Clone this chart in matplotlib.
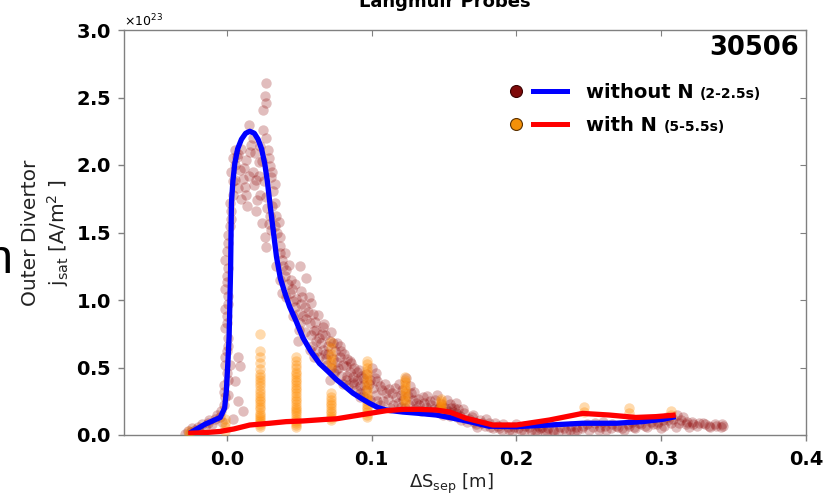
import matplotlib
matplotlib.use("Agg")
import matplotlib.pyplot as plt
import numpy as np
from matplotlib.lines import Line2D
from matplotlib.legend_handler import HandlerTuple
from matplotlib.ticker import ScalarFormatter

# Langmuir probe j_sat profiles along the outer divertor, shot 30506
SCALE = 1e23

# measured points, without nitrogen seeding (2-2.5 s), units of 1e23 A/m^2
woN_x = [-0.029, -0.027, -0.025, -0.024, -0.022, -0.020, -0.019, -0.017, -0.015, -0.013,
         -0.012, -0.010, -0.008, -0.007, -0.005, -0.004, -0.003, -0.002,
         -0.001, -0.002, 0.000, -0.001, 0.001, -0.001, 0.000, 0.001, -0.001, 0.000,
         -0.001, 0.001, 0.002, 0.003, 0.004, 0.001, 0.002, 0.0078, 0.009, 0.006, 0.008, 0.011, 0.004,
         -0.002, 0.001, -0.001, 0.000, 0.001, 0.000, -0.001, 0.001, 0.000, 0.001, 0.000, 0.001,
         0.003, 0.002, 0.004,
         0.0055, 0.0067, 0.009, 0.0055, 0.0078, 0.0101, 0.0124, 0.0136, 0.0152, 0.017,
         0.0193, 0.0205, 0.0228, 0.024, 0.025, 0.0269, 0.0262, 0.0274, 0.025, 0.0274,
         0.0285, 0.0297, 0.0308, 0.032, 0.0331, 0.0343, 0.0262, 0.0274, 0.0308, 0.0366,
         0.0389, 0.0366, 0.0412, 0.012, 0.018, 0.022, 0.003, 0.004, 0.014, 0.020,
         0.006, 0.008, 0.010, 0.011, 0.013, 0.015, 0.016, 0.018, 0.019, 0.021,
         0.022, 0.023, 0.024, 0.026, 0.027, 0.028, 0.029, 0.030, 0.031, 0.033,
         0.035, 0.029, 0.031, 0.033, 0.036, 0.037, 0.038, 0.040, 0.040, 0.042, 0.043,
         0.0343, 0.0366, 0.038, 0.0503, 0.055, 0.0434, 0.048, 0.0515, 0.0538, 0.0457,
         0.0503, 0.0572, 0.0595, 0.0492, 0.0618, 0.0572, 0.0664, 0.0687, 0.0779, 0.0757,
         0.0826, 0.0871, 0.071, 0.0802, 0.0917, 0.0986, 0.1032, 0.1055, 0.110, 0.117,
         0.0618, 0.0733, 0.0664, 0.0526, 0.058, 0.044, 0.064, 0.070, 0.079, 0.085,
         0.090, 0.094, 0.072, 0.083, 0.060, 0.047, 0.041, 0.068, 0.076, 0.088,
         0.096, 0.100, 0.104,
         0.045, 0.046, 0.047, 0.049, 0.051, 0.052, 0.050, 0.054, 0.055, 0.056,
         0.057, 0.058, 0.059, 0.060, 0.061, 0.062, 0.063, 0.064, 0.065, 0.066,
         0.067, 0.068, 0.069, 0.070, 0.071, 0.072, 0.073, 0.074, 0.075, 0.076,
         0.077, 0.078, 0.079, 0.080, 0.081, 0.082, 0.083, 0.084, 0.085, 0.086,
         0.087, 0.088, 0.089, 0.090, 0.091, 0.092, 0.093, 0.094, 0.095, 0.096,
         0.097, 0.098, 0.099, 0.101, 0.102, 0.103, 0.104, 0.106, 0.107, 0.109,
         0.111, 0.113, 0.114, 0.116, 0.118, 0.120,
         0.1262, 0.1285, 0.1354, 0.1377, 0.1469, 0.1538, 0.1584, 0.0917, 0.108, 0.112,
         0.115, 0.120, 0.123, 0.127, 0.131, 0.134, 0.140, 0.143, 0.150, 0.152,
         0.157, 0.119, 0.124, 0.145,
         0.121, 0.122, 0.125, 0.126, 0.129, 0.130, 0.132, 0.133, 0.136, 0.138,
         0.139, 0.141, 0.144, 0.146, 0.148, 0.149, 0.151, 0.153, 0.154, 0.156,
         0.159, 0.160,
         0.161, 0.163, 0.166, 0.169, 0.172, 0.175, 0.178, 0.181, 0.184, 0.187,
         0.190, 0.194, 0.197, 0.201, 0.205, 0.209, 0.213, 0.216, 0.221, 0.225,
         0.229, 0.233, 0.237, 0.241, 0.245, 0.249, 0.253, 0.257, 0.261, 0.265,
         0.269, 0.273, 0.277, 0.281, 0.285, 0.289, 0.293, 0.297, 0.301, 0.304,
         0.307, 0.311, 0.314, 0.317, 0.321, 0.325, 0.329, 0.333, 0.337, 0.341,
         0.343, 0.310, 0.200, 0.155, 0.158, 0.215, 0.260, 0.300, 0.280,
         0.162, 0.164, 0.167, 0.170, 0.171, 0.173, 0.176, 0.179, 0.182, 0.185,
         0.188, 0.191, 0.195, 0.198, 0.203, 0.206, 0.210, 0.214, 0.218, 0.222,
         0.226, 0.230, 0.234, 0.238, 0.242, 0.246, 0.250, 0.254, 0.258, 0.262,
         0.266, 0.270, 0.274, 0.278, 0.282, 0.286, 0.290, 0.294, 0.298, 0.302,
         0.305, 0.308, 0.312, 0.315, 0.318, 0.322, 0.326, 0.330, 0.334, 0.338,
         0.342, 0.319, 0.240, 0.220]
woN_y = [0.01, 0.03, 0.02, 0.05, 0.04, 0.06, 0.03, 0.08, 0.06, 0.09,
         0.11, 0.08, 0.12, 0.15, 0.13, 0.18, 0.10, 0.22,
         0.28, 0.37, 0.46, 0.58, 0.66, 0.79, 0.88, 0.97, 1.08, 1.18,
         1.30, 1.42, 1.55, 1.66, 1.78, 0.30, 0.52, 0.58, 0.51, 0.40, 0.25, 0.18, 0.12,
         0.32, 0.41, 0.52, 0.62, 0.72, 0.83, 0.93, 1.03, 1.13, 1.24, 1.36, 1.48,
         1.60, 1.72, 1.88,
         2.11, 2.06, 1.96, 1.89, 1.83, 1.75, 1.84, 2.04, 2.30, 2.15,
         2.09, 1.89, 1.78, 1.57, 2.26, 2.61, 2.51, 2.46, 2.41, 2.20,
         2.11, 1.99, 1.91, 1.81, 1.72, 1.62, 1.47, 1.39, 1.52, 1.47,
         1.25, 1.15, 1.22, 1.98, 1.95, 2.02, 1.95, 2.05, 1.70, 1.66,
         2.00, 2.08, 2.12, 1.90, 1.78, 1.92, 2.10, 2.20, 1.85, 1.74,
         1.92, 2.14, 2.03, 1.88, 1.76, 1.68, 1.56, 1.62, 1.70, 1.55,
         1.50, 2.05, 1.95, 1.86, 1.58, 1.40, 1.30, 1.35, 1.18, 1.12, 1.26,
         1.25, 1.35, 1.05, 1.25, 1.16, 1.05, 1.01, 1.07, 0.95, 0.88,
         0.83, 0.83, 0.90, 0.70, 0.70, 0.63, 0.63, 0.56, 0.58, 0.48,
         0.51, 0.43, 0.41, 0.38, 0.36, 0.41, 0.46, 0.36, 0.31, 0.28,
         0.78, 0.68, 0.80, 0.88, 0.98, 1.15, 0.72, 0.66, 0.62, 0.55,
         0.47, 0.42, 0.50, 0.44, 0.58, 0.95, 1.02, 0.74, 0.54, 0.38,
         0.33, 0.50, 0.40,
         1.08, 0.99, 1.12, 0.90, 0.97, 1.02, 0.78, 0.76, 0.86, 0.91,
         1.02, 0.74, 0.66, 0.77, 0.84, 0.62, 0.89, 0.58, 0.68, 0.75,
         0.82, 0.60, 0.52, 0.60, 0.70, 0.76, 0.56, 0.46, 0.62, 0.68,
         0.50, 0.66, 0.44, 0.52, 0.60, 0.41, 0.56, 0.37, 0.47, 0.53,
         0.39, 0.50, 0.33, 0.41, 0.48, 0.31, 0.44, 0.29, 0.37, 0.45,
         0.27, 0.38, 0.26, 0.35, 0.42, 0.30, 0.25, 0.22, 0.33, 0.38,
         0.27, 0.20, 0.31, 0.35, 0.24, 0.21,
         0.36, 0.26, 0.28, 0.21, 0.21, 0.23, 0.16, 0.28, 0.25, 0.34,
         0.22, 0.30, 0.20, 0.31, 0.24, 0.18, 0.25, 0.19, 0.17, 0.26,
         0.20, 0.38, 0.42, 0.30,
         0.33, 0.26, 0.29, 0.22, 0.32, 0.19, 0.27, 0.22, 0.24, 0.29,
         0.18, 0.22, 0.26, 0.19, 0.23, 0.15, 0.20, 0.18, 0.14, 0.17,
         0.13, 0.19,
         0.14, 0.19, 0.10, 0.13, 0.08, 0.11, 0.07, 0.09, 0.05, 0.07,
         0.04, 0.06, 0.03, 0.05, 0.03, 0.06, 0.03, 0.05, 0.03, 0.04,
         0.02, 0.05, 0.04, 0.06, 0.05, 0.08, 0.06, 0.04, 0.07, 0.05,
         0.07, 0.05, 0.08, 0.06, 0.09, 0.07, 0.10, 0.08, 0.11, 0.13,
         0.09, 0.15, 0.11, 0.08, 0.10, 0.07, 0.09, 0.07, 0.08, 0.06,
         0.07, 0.06, 0.08, 0.20, 0.24, 0.07, 0.10, 0.05, 0.10,
         0.11, 0.16, 0.12, 0.15, 0.10, 0.06, 0.09, 0.12, 0.06, 0.09,
         0.05, 0.08, 0.04, 0.06, 0.04, 0.07, 0.04, 0.02, 0.06, 0.05,
         0.03, 0.06, 0.03, 0.07, 0.04, 0.07, 0.04, 0.09, 0.06, 0.04,
         0.08, 0.06, 0.04, 0.07, 0.05, 0.08, 0.06, 0.08, 0.10, 0.07,
         0.11, 0.12, 0.09, 0.13, 0.10, 0.08, 0.09, 0.08, 0.06, 0.07,
         0.08, 0.06, 0.02, 0.02]

# measured points, with nitrogen seeding (5-5.5 s)
wN_x = [-0.026, -0.026,
        -0.001, -0.001, -0.001, -0.001,
        0.023, 0.023, 0.023, 0.023, 0.023, 0.023, 0.023, 0.023, 0.023, 0.023, 0.023, 0.023, 0.023, 0.023,
        0.023, 0.023, 0.023, 0.023, 0.023, 0.023, 0.023, 0.023, 0.023, 0.023, 0.023, 0.023,
        0.048, 0.048, 0.048, 0.048, 0.048, 0.048, 0.048, 0.048, 0.048, 0.048, 0.048, 0.048, 0.048, 0.048,
        0.048, 0.048, 0.048, 0.048, 0.048, 0.048, 0.048, 0.048, 0.048, 0.048, 0.048, 0.048, 0.048,
        0.072, 0.072, 0.072, 0.072, 0.072, 0.072, 0.072, 0.072, 0.072, 0.072,
        0.072, 0.072, 0.072, 0.072, 0.072, 0.072, 0.072, 0.072,
        0.097, 0.097, 0.097, 0.097, 0.097, 0.097, 0.097, 0.097, 0.097, 0.097,
        0.097, 0.097, 0.097, 0.097, 0.097, 0.097, 0.097, 0.097, 0.097,
        0.123, 0.123, 0.123, 0.123, 0.123, 0.123, 0.123, 0.123, 0.123, 0.123, 0.123,
        0.148, 0.148, 0.148, 0.148, 0.148, 0.148, 0.148,
        0.247, 0.247, 0.278, 0.278, 0.307, 0.307]
wN_y = [0.01, 0.03,
        0.03, 0.06, 0.09, 0.12,
        0.75, 0.62, 0.53, 0.45, 0.41, 0.36, 0.31, 0.27, 0.23, 0.19, 0.15, 0.12, 0.09, 0.06,
        0.075, 0.105, 0.135, 0.165, 0.21, 0.25, 0.29, 0.335, 0.385, 0.43, 0.49, 0.575,
        0.58, 0.52, 0.47, 0.43, 0.39, 0.35, 0.31, 0.27, 0.23, 0.19, 0.16, 0.12, 0.09, 0.06,
        0.075, 0.105, 0.14, 0.175, 0.21, 0.25, 0.29, 0.33, 0.37, 0.41, 0.45, 0.495, 0.545,
        0.69, 0.60, 0.55, 0.50, 0.31, 0.26, 0.22, 0.18, 0.14, 0.11,
        0.125, 0.16, 0.20, 0.24, 0.285, 0.525, 0.575, 0.645,
        0.55, 0.50, 0.45, 0.40, 0.35, 0.30, 0.25, 0.21, 0.17, 0.13,
        0.15, 0.19, 0.23, 0.275, 0.325, 0.375, 0.425, 0.475, 0.525,
        0.43, 0.39, 0.35, 0.31, 0.27, 0.23, 0.25, 0.29, 0.33, 0.37, 0.41,
        0.27, 0.24, 0.21, 0.18, 0.195, 0.225, 0.255,
        0.21, 0.17, 0.20, 0.16, 0.18, 0.15]

# smoothed profiles
fit_woN_x = [-0.0255, -0.015, -0.0045, -0.0015, -0.0003, 0.0008, 0.0016, 0.0021, 0.0026, 0.0032,
             0.0042, 0.0055, 0.0075, 0.0101, 0.013, 0.0159, 0.019, 0.0216, 0.024, 0.0262,
             0.028, 0.0297, 0.032, 0.0343, 0.037, 0.0405, 0.0434, 0.048, 0.0526, 0.058,
             0.064, 0.070, 0.0757, 0.0815, 0.0871, 0.093, 0.0986, 0.104, 0.110, 0.1216,
             0.133, 0.1446, 0.156, 0.1676, 0.181, 0.200, 0.2228, 0.2457, 0.2688, 0.287,
             0.301, 0.310]
fit_woN_y = [0.015, 0.08, 0.13, 0.20, 0.33, 0.55, 0.73, 0.97, 1.22, 1.72,
             1.88, 2.01, 2.12, 2.19, 2.235, 2.25, 2.235, 2.19, 2.12, 2.01,
             1.88, 1.72, 1.52, 1.32, 1.16, 1.04, 0.95, 0.84, 0.72, 0.62,
             0.53, 0.47, 0.41, 0.36, 0.31, 0.27, 0.235, 0.205, 0.185, 0.17,
             0.16, 0.148, 0.125, 0.099, 0.065, 0.062, 0.074, 0.087, 0.087, 0.099,
             0.116, 0.136]
fit_wN_x = [-0.0267, -0.015, -0.0048, 0.005, 0.0159, 0.0297, 0.041, 0.0526, 0.0688, 0.0757,
            0.0986, 0.110, 0.1216, 0.133, 0.1446, 0.154, 0.165, 0.1837, 0.200, 0.2228,
            0.2457, 0.264, 0.2825, 0.2963, 0.310]
fit_wN_y = [0.012, 0.018, 0.026, 0.045, 0.074, 0.087, 0.099, 0.104, 0.116, 0.120,
            0.160, 0.180, 0.190, 0.190, 0.185, 0.170, 0.125, 0.074, 0.074, 0.111,
            0.160, 0.148, 0.130, 0.136, 0.148]

x_ticks = [0.0, 0.1, 0.2, 0.3, 0.4]
y_ticks = [0.0, 0.5, 1.0, 1.5, 2.0, 2.5, 3.0]
legend_labels = ["without N", "with N"]
legend_times = ["(2-2.5s)", "(5-5.5s)"]

W, H = 823, 493
fig = plt.figure(figsize=(W / 100, H / 100), dpi=100)
ax = fig.add_axes([124 / W, 1 - 435 / H, 682 / W, 405 / H])


def sc(v):
    return np.asarray(v) * SCALE


ax.scatter(woN_x, sc(woN_y), s=56, color="darkred", alpha=0.26, linewidths=0, zorder=2)
ax.scatter(wN_x, sc(wN_y), s=56, color="darkorange", alpha=0.32, linewidths=0, zorder=3)
ax.plot(fit_woN_x, sc(fit_woN_y), color="#0000ff", lw=3.8, solid_capstyle="butt", zorder=4)
ax.plot(fit_wN_x, sc(fit_wN_y), color="#ff0000", lw=3.8, solid_capstyle="butt", zorder=5)

ax.set_xlim(-0.071, 0.4)
ax.set_ylim(0, 3.0 * SCALE)
ax.set_xticks(x_ticks)
ax.set_yticks(sc(y_ticks))

fmt = ScalarFormatter(useMathText=True)
fmt.set_powerlimits((0, 0))
ax.yaxis.set_major_formatter(fmt)
ax.yaxis.get_offset_text().set_fontsize(9)
ax.xaxis.set_major_formatter(plt.FormatStrFormatter("%.1f"))

for s in ax.spines.values():
    s.set_color("#808080")
    s.set_linewidth(1.0)
ax.tick_params(axis="both", which="major", direction="out", length=4, width=1,
               color="#808080", labelsize=14, pad=5)
ax.tick_params(axis="x", pad=7)
for lab in ax.get_xticklabels() + ax.get_yticklabels():
    lab.set_fontweight("bold")

ax.set_xlabel(r"$\Delta \mathrm{S}_{\mathrm{sep}}$ [m]", fontsize=13, color="#222222")
ax.xaxis.set_label_coords((451 - 124) / 682, -0.09)
ax.set_ylabel("Outer Divertor\n" + r"j$_{\mathrm{sat}}$ [A/m$^2$ ]", fontsize=14.5,
              color="#222222", linespacing=1.25)
ax.yaxis.set_label_coords(-0.078, 0.5)

ax.text(0.99, 0.955, "30506", transform=ax.transAxes, ha="right", va="center",
        fontsize=18.5, fontweight="bold")

fig.text(445 / W, 1 - 7 / H, "Langmuir Probes", ha="center", va="baseline",
         fontsize=13, fontweight="bold")
fig.text(-14 / W, 1 - 273 / H, "n", ha="left", va="baseline", fontsize=35,
         family="Liberation Sans")

h1 = (Line2D([], [], ls="none", marker="o", ms=8.6, mfc="#7f0a0a", mec="#3a0000", mew=0.8),
      Line2D([], [], color="#0000ff", lw=3.6))
h2 = (Line2D([], [], ls="none", marker="o", ms=8.6, mfc="#f39008", mec="#5a3000", mew=0.8),
      Line2D([], [], color="#ff0000", lw=3.6))
leg = ax.legend([h1, h2], legend_labels,
                handler_map={tuple: HandlerTuple(ndivide=None, pad=0.0)},
                loc="upper left", bbox_to_anchor=((499 - 124) / 682, (435 - 83) / 405),
                frameon=False, borderpad=0, borderaxespad=0, handlelength=3.5,
                handletextpad=1.0, labelspacing=0.72,
                prop={"weight": "bold", "size": 14})

# inward ticks on the top and right edges
ax2 = ax.twiny()
ax2.set_xlim(ax.get_xlim())
ax2.set_xticks(x_ticks)
ax2.tick_params(direction="in", length=4, color="#808080", labeltop=False)
ax3 = ax.twinx()
ax3.set_ylim(ax.get_ylim())
ax3.set_yticks(sc(y_ticks))
ax3.tick_params(direction="in", length=4, color="#808080", labelright=False)
for a in (ax2, ax3):
    for s in a.spines.values():
        s.set_visible(False)

# time windows in smaller type next to each legend entry
fig.canvas.draw()
for txt, extra in zip(leg.get_texts(), legend_times):
    bb = txt.get_window_extent()
    fig.text((bb.x1 + 6) / W, (bb.y0 + 1) / H, extra, ha="left", va="bottom",
             fontsize=10, fontweight="bold")

fig.savefig("out.png", dpi=100)
